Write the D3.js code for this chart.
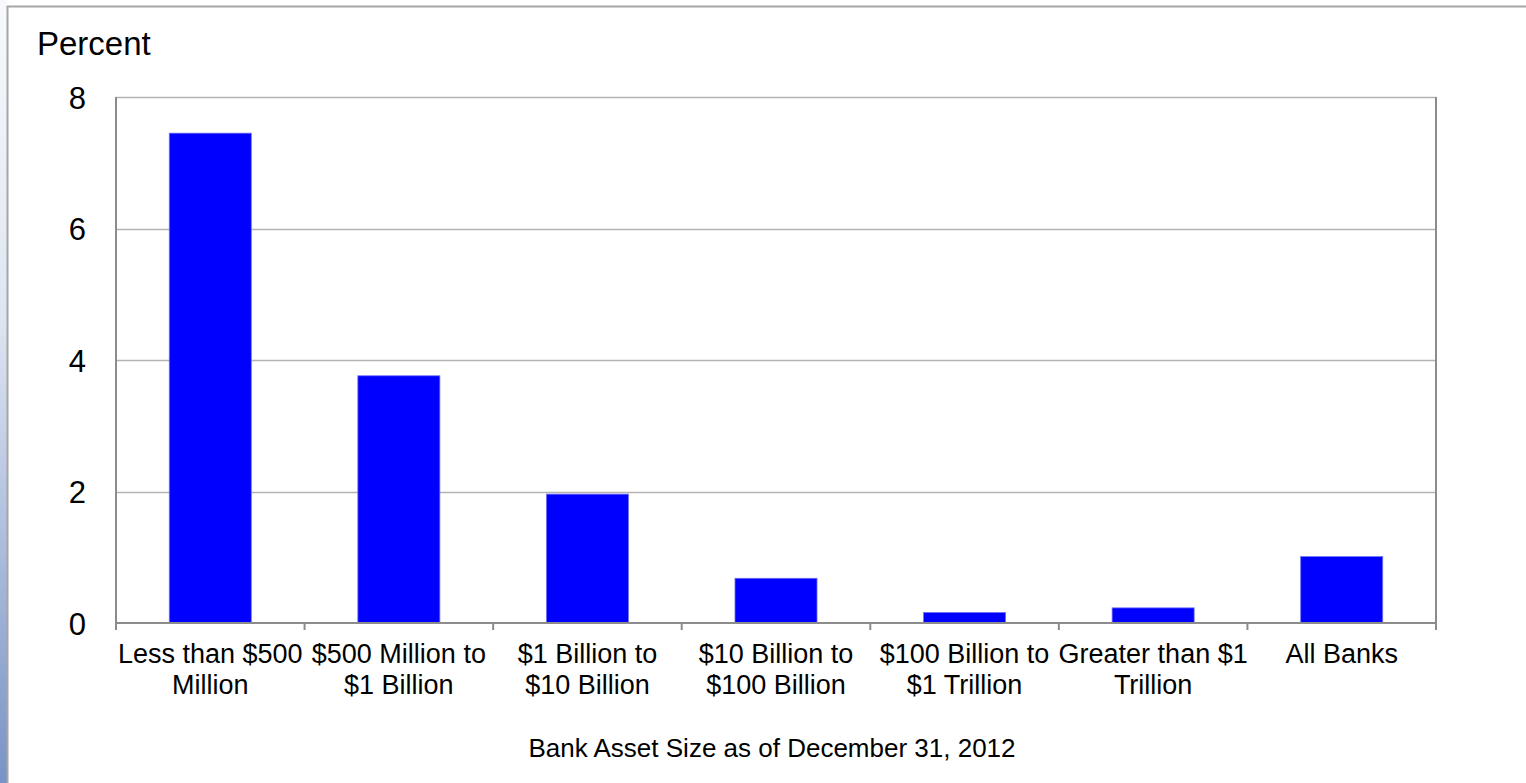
<!DOCTYPE html>
<html>
<head>
<meta charset="utf-8">
<script src="https://cdn.jsdelivr.net/npm/d3@7"></script>
<style>
  html, body { margin: 0; padding: 0; background: #fff; }
  svg { display: block; }
  text { font-family: "Liberation Sans", Arial, sans-serif; fill: #000; }
</style>
</head>
<body>
<script>
// Share of banks by asset size (percent)
const categories = [
  ["Less than $500", "Million"],
  ["$500 Million to", "$1 Billion"],
  ["$1 Billion to", "$10 Billion"],
  ["$10 Billion to", "$100 Billion"],
  ["$100 Billion to", "$1 Trillion"],
  ["Greater than $1", "Trillion"],
  ["All Banks"]
];
const values = [7.45, 3.76, 1.96, 0.68, 0.16, 0.23, 1.01];
const yTicks = [0, 2, 4, 6, 8];
const yLabel = "Percent";
const xLabel = "Bank Asset Size as of December 31, 2012";

const W = 1526, H = 783;
const plot = { left: 116, right: 1436, top: 97, bottom: 623 };

const svg = d3.select("body").append("svg").attr("width", W).attr("height", H);

// side gradient strip
const defs = svg.append("defs");
const grad = defs.append("linearGradient").attr("id", "strip").attr("x1", 0).attr("y1", 0).attr("x2", 0).attr("y2", 1);
grad.append("stop").attr("offset", "0%").attr("stop-color", "#f7f9fc");
grad.append("stop").attr("offset", "40%").attr("stop-color", "#dfe6f2");
grad.append("stop").attr("offset", "100%").attr("stop-color", "#7893c6");
svg.append("rect").attr("x", 0).attr("y", 0).attr("width", 7).attr("height", H).attr("fill", "url(#strip)");

// outer frame
svg.append("rect").attr("x", 7.5).attr("y", 6.5).attr("width", W + 10).attr("height", H + 10)
  .attr("fill", "#fff").attr("stroke", "#a6a6a6").attr("stroke-width", 2);

const x = d3.scaleBand().domain(d3.range(categories.length)).range([plot.left, plot.right]).paddingInner(0.565).paddingOuter(0.2825);
const xOuter = d3.scaleBand().domain(d3.range(categories.length)).range([plot.left, plot.right]);
const y = d3.scaleLinear().domain([0, 8]).range([plot.bottom, plot.top]);

// gridlines
svg.append("g").selectAll("line").data(yTicks.filter(d => d > 0)).join("line")
  .attr("x1", plot.left).attr("x2", plot.right)
  .attr("y1", d => Math.round(y(d)) + 0.5).attr("y2", d => Math.round(y(d)) + 0.5)
  .attr("stroke", "#b3b3b3").attr("stroke-width", 1.5);

// right border of plot area
svg.append("line").attr("x1", plot.right).attr("x2", plot.right).attr("y1", plot.top).attr("y2", plot.bottom + 7)
  .attr("stroke", "#8c8c8c").attr("stroke-width", 2);

// bars
svg.append("g").selectAll("rect").data(values).join("rect")
  .attr("x", (d, i) => x(i)).attr("width", x.bandwidth())
  .attr("y", d => y(d)).attr("height", d => y(0) - y(d))
  .attr("fill", "#0000ff").attr("stroke", "#6f6ff5").attr("stroke-width", 0.8);

// y axis
const yAxis = svg.append("g").attr("transform", `translate(${plot.left},0)`)
  .call(d3.axisLeft(y).tickValues(yTicks).tickSize(0).tickPadding(30).tickFormat(d3.format("d")));
yAxis.select(".domain").remove();
yAxis.selectAll("text").style("font-size", "31px").attr("dy", "0.36em");
svg.append("line").attr("x1", plot.left).attr("x2", plot.left).attr("y1", plot.top).attr("y2", plot.bottom + 7)
  .attr("stroke", "#8c8c8c").attr("stroke-width", 2);

// x axis
svg.append("line").attr("x1", plot.left).attr("x2", plot.right).attr("y1", plot.bottom).attr("y2", plot.bottom)
  .attr("stroke", "#8c8c8c").attr("stroke-width", 2);
svg.append("g").selectAll("line").data(d3.range(1, categories.length)).join("line")
  .attr("x1", i => xOuter(i)).attr("x2", i => xOuter(i))
  .attr("y1", plot.bottom).attr("y2", plot.bottom + 7)
  .attr("stroke", "#8c8c8c").attr("stroke-width", 2);

const labels = svg.append("g").selectAll("text").data(categories).join("text")
  .attr("text-anchor", "middle").style("font-size", "27px")
  .attr("x", (d, i) => xOuter(i) + xOuter.bandwidth() / 2).attr("y", 663);
labels.selectAll("tspan").data(d => d).join("tspan")
  .attr("x", function() { return d3.select(this.parentNode).attr("x"); })
  .attr("dy", (d, i) => i === 0 ? 0 : 31).text(d => d);

// titles
svg.append("text").attr("x", 37).attr("y", 55).style("font-size", "33px").text(yLabel);
svg.append("text").attr("x", 772).attr("y", 757).attr("text-anchor", "middle").style("font-size", "26px").text(xLabel);
</script>
</body>
</html>
